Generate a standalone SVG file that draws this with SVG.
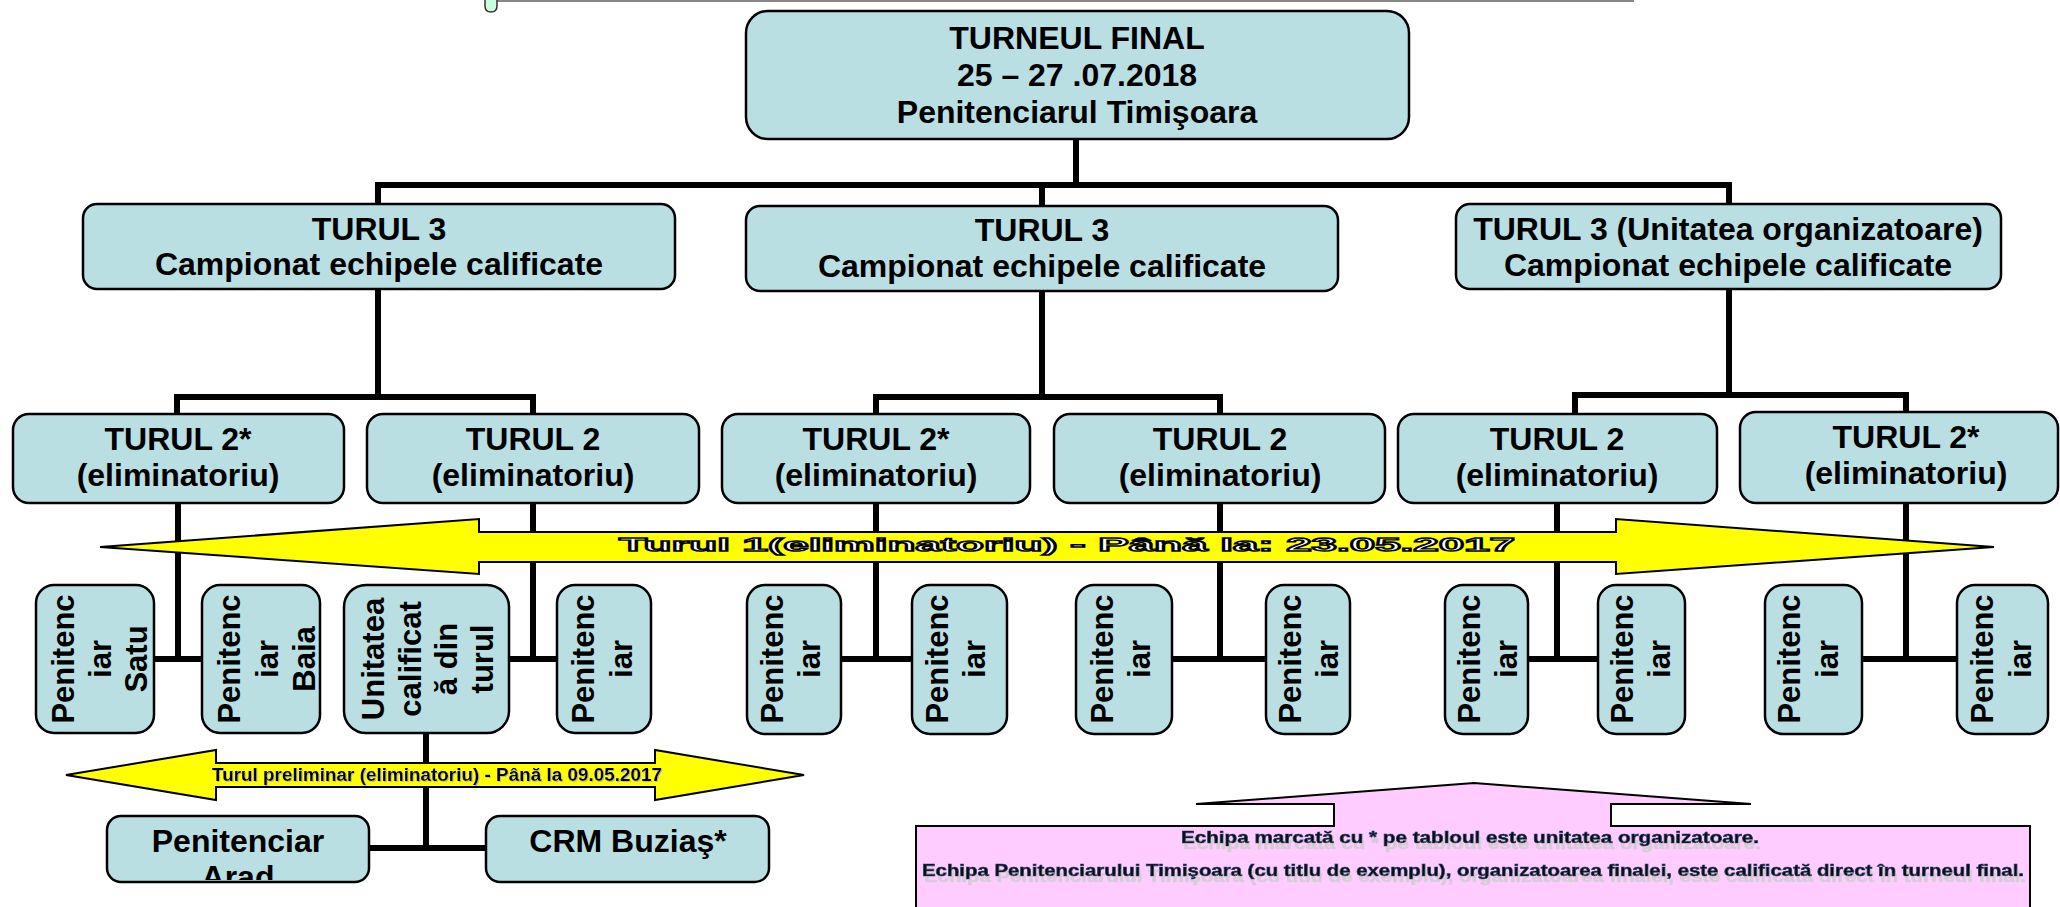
<svg xmlns="http://www.w3.org/2000/svg" width="2060" height="907" viewBox="0 0 2060 907">
<style>
.box{fill:#BADFE2;stroke:#000;stroke-width:2.5}
.t{font-family:"Liberation Sans",Arial,sans-serif;font-weight:bold;font-size:32px;fill:#000;text-anchor:middle}
.v{font-family:"Liberation Sans",Arial,sans-serif;font-weight:bold;font-size:31px;fill:#000;text-anchor:middle}
.c{stroke:#000;stroke-width:6;fill:none;stroke-linecap:square}
.arrow{fill:#FFFF00;stroke:#000;stroke-width:2}
</style>
<defs>
<filter id="shadowBig" x="-5%" y="-50%" width="110%" height="250%">
<feOffset in="SourceAlpha" dx="2" dy="6" result="off"/>
<feComponentTransfer in="off" result="gray"><feFuncR type="linear" slope="0" intercept="0.6"/><feFuncG type="linear" slope="0" intercept="0.6"/><feFuncB type="linear" slope="0" intercept="0.6"/><feFuncA type="linear" slope="0.8"/></feComponentTransfer>
<feMerge><feMergeNode in="gray"/><feMergeNode in="SourceGraphic"/></feMerge>
</filter>
<filter id="shadowSmall" x="-5%" y="-50%" width="110%" height="250%">
<feOffset in="SourceAlpha" dx="1" dy="1" result="off"/>
<feComponentTransfer in="off" result="gray"><feFuncR type="linear" slope="0" intercept="0.45"/><feFuncG type="linear" slope="0" intercept="0.45"/><feFuncB type="linear" slope="0" intercept="0.45"/><feFuncA type="linear" slope="0.9"/></feComponentTransfer>
<feMerge><feMergeNode in="gray"/><feMergeNode in="SourceGraphic"/></feMerge>
</filter>
<clipPath id="cl1"><rect x="38" y="587" width="114" height="144" rx="16"/></clipPath>
<clipPath id="cl2"><rect x="204" y="587" width="114" height="144" rx="16"/></clipPath>
<clipPath id="cl3"><rect x="346" y="587" width="161" height="144" rx="16"/></clipPath>
<clipPath id="cl4"><rect x="559" y="587" width="90" height="144" rx="16"/></clipPath>
<clipPath id="cl5"><rect x="749" y="587" width="90" height="145" rx="16"/></clipPath>
<clipPath id="cl6"><rect x="914" y="587" width="91" height="145" rx="16"/></clipPath>
<clipPath id="cl7"><rect x="1078" y="587" width="92" height="145" rx="16"/></clipPath>
<clipPath id="cl8"><rect x="1268" y="587" width="80" height="145" rx="16"/></clipPath>
<clipPath id="cl9"><rect x="1447" y="587" width="79" height="145" rx="16"/></clipPath>
<clipPath id="cl10"><rect x="1600" y="587" width="83" height="145" rx="16"/></clipPath>
<clipPath id="cl11"><rect x="1767" y="587" width="93" height="145" rx="16"/></clipPath>
<clipPath id="cl12"><rect x="1959" y="587" width="87" height="145" rx="16"/></clipPath>
<clipPath id="clArad"><rect x="109" y="818" width="258" height="62"/></clipPath>
</defs>
<rect width="2060" height="907" fill="#fff"/>
<line x1="497" y1="1" x2="1634" y2="1" stroke="#888" stroke-width="2"/>
<path d="M485,-2 L485,6 Q485,12 491,12 Q497,12 497,6 L497,-2" fill="#ccffdd" stroke="#333" stroke-width="1.5"/>
<g id="connectors">
<path class="c" d="M1076,139 V185 M378,185 H1729 M378,185 V204 M1042,185 V206 M1729,185 V204"/>
<path class="c" d="M378,289 V397 M177,397 H533 M177,397 V414 M533,397 V414"/>
<path class="c" d="M1042,291 V397 M876,397 H1220 M876,397 V414 M1220,397 V414"/>
<path class="c" d="M1729,289 V395 M1575,395 H1906 M1575,395 V412 M1906,395 V412"/>
<path class="c" d="M178,503 V659 M154,659 H202"/>
<path class="c" d="M533,503 V659 M509,659 H557"/>
<path class="c" d="M876,503 V659 M841,659 H912"/>
<path class="c" d="M1220,503 V659 M1172,659 H1266"/>
<path class="c" d="M1557,503 V659 M1528,659 H1598"/>
<path class="c" d="M1906,503 V659 M1862,659 H1957"/>
<path class="c" d="M426,733 V848 M369,848 H486"/>
</g>
<g id="final">
<rect class="box" x="746" y="11" width="663" height="128" rx="22"/>
<text class="t" x="1077" y="49">TURNEUL FINAL</text>
<text class="t" x="1077" y="86">25 – 27 .07.2018</text>
<text class="t" x="1077" y="123">Penitenciarul Timişoara</text>
</g>
<g id="t3a">
<rect class="box" x="83" y="204" width="592" height="85" rx="14"/>
<text class="t" x="379" y="240">TURUL 3</text>
<text class="t" x="379" y="275">Campionat echipele calificate</text>
</g>
<g id="t3b">
<rect class="box" x="746" y="206" width="592" height="85" rx="14"/>
<text class="t" x="1042" y="241">TURUL 3</text>
<text class="t" x="1042" y="277">Campionat echipele calificate</text>
</g>
<g id="t3c">
<rect class="box" x="1456" y="204" width="545" height="85" rx="14"/>
<text class="t" x="1728" y="240">TURUL 3 (Unitatea organizatoare)</text>
<text class="t" x="1728" y="276">Campionat echipele calificate</text>
</g>
<g id="t2a">
<rect class="box" x="13" y="414" width="331" height="89" rx="16"/>
<text class="t" x="178" y="450">TURUL 2*</text>
<text class="t" x="178" y="486">(eliminatoriu)</text>
</g>
<g id="t2b">
<rect class="box" x="367" y="414" width="332" height="89" rx="16"/>
<text class="t" x="533" y="450">TURUL 2</text>
<text class="t" x="533" y="486">(eliminatoriu)</text>
</g>
<g id="t2c">
<rect class="box" x="722" y="414" width="308" height="89" rx="16"/>
<text class="t" x="876" y="450">TURUL 2*</text>
<text class="t" x="876" y="486">(eliminatoriu)</text>
</g>
<g id="t2d">
<rect class="box" x="1054" y="414" width="331" height="89" rx="16"/>
<text class="t" x="1220" y="450">TURUL 2</text>
<text class="t" x="1220" y="486">(eliminatoriu)</text>
</g>
<g id="t2e">
<rect class="box" x="1398" y="414" width="319" height="89" rx="16"/>
<text class="t" x="1557" y="450">TURUL 2</text>
<text class="t" x="1557" y="486">(eliminatoriu)</text>
</g>
<g id="t2f">
<rect class="box" x="1740" y="412" width="318" height="91" rx="16"/>
<text class="t" x="1906" y="448">TURUL 2*</text>
<text class="t" x="1906" y="484">(eliminatoriu)</text>
</g>
<g id="leaf1">
<rect class="box" x="36" y="585" width="118" height="148" rx="18"/>
<g clip-path="url(#cl1)">
<text class="v" transform="translate(74,659) rotate(-90)">Penitenc</text>
<text class="v" transform="translate(111,659) rotate(-90)">iar</text>
<text class="v" transform="translate(147,659) rotate(-90)">Satu</text>
</g>
</g>
<g id="leaf2">
<rect class="box" x="202" y="585" width="118" height="148" rx="18"/>
<g clip-path="url(#cl2)">
<text class="v" transform="translate(240,659) rotate(-90)">Penitenc</text>
<text class="v" transform="translate(278,659) rotate(-90)">iar</text>
<text class="v" transform="translate(315,659) rotate(-90)">Baia</text>
</g>
</g>
<g id="leaf3">
<rect class="box" x="344" y="585" width="165" height="148" rx="22"/>
<g clip-path="url(#cl3)">
<text class="v" transform="translate(384,659) rotate(-90)">Unitatea</text>
<text class="v" transform="translate(421,659) rotate(-90)">calificat</text>
<text class="v" transform="translate(457,659) rotate(-90)">ă din</text>
<text class="v" transform="translate(493,659) rotate(-90)">turul</text>
</g>
</g>
<g id="leaf4">
<rect class="box" x="557" y="585" width="94" height="148" rx="18"/>
<g clip-path="url(#cl4)">
<text class="v" transform="translate(594,659) rotate(-90)">Penitenc</text>
<text class="v" transform="translate(632,659) rotate(-90)">iar</text>
</g>
</g>
<g id="leaf5">
<rect class="box" x="747" y="585" width="94" height="149" rx="18"/>
<g clip-path="url(#cl5)">
<text class="v" transform="translate(783,659) rotate(-90)">Penitenc</text>
<text class="v" transform="translate(820,659) rotate(-90)">iar</text>
</g>
</g>
<g id="leaf6">
<rect class="box" x="912" y="585" width="95" height="149" rx="18"/>
<g clip-path="url(#cl6)">
<text class="v" transform="translate(948,659) rotate(-90)">Penitenc</text>
<text class="v" transform="translate(985,659) rotate(-90)">iar</text>
</g>
</g>
<g id="leaf7">
<rect class="box" x="1076" y="585" width="96" height="149" rx="18"/>
<g clip-path="url(#cl7)">
<text class="v" transform="translate(1113,659) rotate(-90)">Penitenc</text>
<text class="v" transform="translate(1150,659) rotate(-90)">iar</text>
</g>
</g>
<g id="leaf8">
<rect class="box" x="1266" y="585" width="84" height="149" rx="18"/>
<g clip-path="url(#cl8)">
<text class="v" transform="translate(1301,659) rotate(-90)">Penitenc</text>
<text class="v" transform="translate(1338,659) rotate(-90)">iar</text>
</g>
</g>
<g id="leaf9">
<rect class="box" x="1445" y="585" width="83" height="149" rx="18"/>
<g clip-path="url(#cl9)">
<text class="v" transform="translate(1480,659) rotate(-90)">Penitenc</text>
<text class="v" transform="translate(1517,659) rotate(-90)">iar</text>
</g>
</g>
<g id="leaf10">
<rect class="box" x="1598" y="585" width="87" height="149" rx="18"/>
<g clip-path="url(#cl10)">
<text class="v" transform="translate(1633,659) rotate(-90)">Penitenc</text>
<text class="v" transform="translate(1670,659) rotate(-90)">iar</text>
</g>
</g>
<g id="leaf11">
<rect class="box" x="1765" y="585" width="97" height="149" rx="18"/>
<g clip-path="url(#cl11)">
<text class="v" transform="translate(1800,659) rotate(-90)">Penitenc</text>
<text class="v" transform="translate(1838,659) rotate(-90)">iar</text>
</g>
</g>
<g id="leaf12">
<rect class="box" x="1957" y="585" width="91" height="149" rx="18"/>
<g clip-path="url(#cl12)">
<text class="v" transform="translate(1993,659) rotate(-90)">Penitenc</text>
<text class="v" transform="translate(2031,659) rotate(-90)">iar</text>
</g>
</g>
<g id="arad">
<rect class="box" x="107" y="816" width="262" height="66" rx="14"/>
<g clip-path="url(#clArad)">
<text class="t" x="238" y="852">Penitenciar</text>
<text class="t" x="238" y="888">Arad</text>
</g>
</g>
<g id="buzias">
<rect class="box" x="486" y="816" width="283" height="66" rx="14"/>
<text class="t" x="628" y="852">CRM Buziaş*</text>
</g>
<g id="turul1">
<polygon class="arrow" points="100,547 479,519 479,532 1616,532 1616,519 1994,547 1616,574 1616,562 479,562 479,574"/>
<text x="619" y="551" textLength="896" lengthAdjust="spacingAndGlyphs" font-family="Liberation Sans, Arial, sans-serif" font-weight="bold" font-size="19" fill="#fff" stroke="#000" stroke-width="1.4">Turul 1(eliminatoriu) - Până la: 23.05.2017</text>
</g>
<g id="preliminar">
<polygon class="arrow" points="66,775 216,750 216,763 655,763 655,750 804,775 655,800 655,787 216,787 216,800"/>
<text x="212" y="781" textLength="450" lengthAdjust="spacingAndGlyphs" font-family="Liberation Sans, Arial, sans-serif" font-weight="bold" font-size="18" fill="#000" filter="url(#shadowSmall)">Turul preliminar (eliminatoriu) - Până la 09.05.2017</text>
</g>
<g id="nota">
<path d="M916,826 L1334,826 L1334,804 L1196,804 L1474,783 L1751,804 L1611,804 L1611,826 L2030,826 L2030,912 L916,912 Z" fill="#FFCCFF" stroke="#000" stroke-width="2"/>
<g font-family="Liberation Sans, Arial, sans-serif" font-weight="bold" font-size="16" fill="#111" stroke="#1F3F6F" stroke-width="0.6" filter="url(#shadowBig)">
<text x="1181" y="843" textLength="578" lengthAdjust="spacingAndGlyphs">Echipa marcată cu * pe tabloul este unitatea organizatoare.</text>
<text x="922" y="876" textLength="1102" lengthAdjust="spacingAndGlyphs">Echipa Penitenciarului Timişoara (cu titlu de exemplu), organizatoarea finalei, este calificată direct în turneul final.</text>
</g>
</g>
</svg>
